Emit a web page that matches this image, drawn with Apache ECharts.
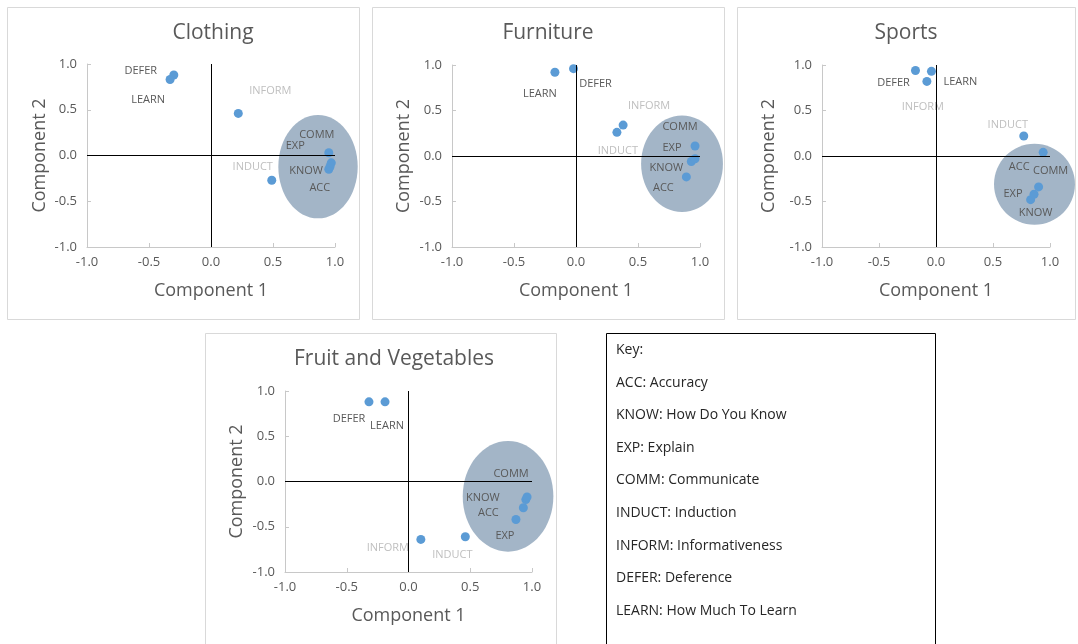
<!DOCTYPE html>
<html>
<head>
<meta charset="utf-8">
<script src="https://cdn.jsdelivr.net/npm/echarts@6/dist/echarts.min.js"></script>
<style>
html,body{margin:0;padding:0;background:#fff;}
#chart{width:1078px;height:644px;}
</style>
</head>
<body>
<div id="chart"></div>
<script>
// ---- Data ----
const varNames = ['ACC', 'KNOW', 'EXP', 'COMM', 'INDUCT', 'INFORM', 'DEFER', 'LEARN'];
const panelTitles = ['Clothing', 'Furniture', 'Sports', 'Fruit and Vegetables'];

const clothingX = [0.95, 0.96, 0.97, 0.95, 0.49, 0.22, -0.30, -0.33];
const clothingY = [-0.15, -0.12, -0.08, 0.03, -0.27, 0.46, 0.88, 0.83];
const furnitureX = [0.89, 0.93, 0.96, 0.96, 0.33, 0.38, -0.02, -0.17];
const furnitureY = [-0.23, -0.06, -0.03, 0.11, 0.26, 0.34, 0.96, 0.92];
const sportsX = [0.94, 0.83, 0.86, 0.90, 0.77, -0.08, -0.18, -0.04];
const sportsY = [0.04, -0.48, -0.42, -0.34, 0.22, 0.82, 0.94, 0.93];
const fruitX = [0.93, 0.95, 0.87, 0.96, 0.46, 0.10, -0.32, -0.19];
const fruitY = [-0.29, -0.20, -0.42, -0.17, -0.61, -0.64, 0.88, 0.88];

// cluster ellipses: [centerX, centerY, radiusX, radiusY] in data units
const clothingEllipse = [0.863, -0.122, 0.32, 0.565];
const furnitureEllipse = [0.855, -0.086, 0.33, 0.53];
const sportsEllipse = [0.864, -0.311, 0.355, 0.445];
const fruitEllipse = [0.806, -0.164, 0.367, 0.611];

const axisMin = -1.0, axisMax = 1.0, axisStep = 0.5;
const xAxisName = 'Component 1';
const yAxisName = 'Component 2';

const keyLines = ['Key:', 'ACC: Accuracy', 'KNOW: How Do You Know', 'EXP: Explain',
  'COMM: Communicate', 'INDUCT: Induction', 'INFORM: Informativeness',
  'DEFER: Deference', 'LEARN: How Much To Learn'];

const lightLabels = ['INDUCT', 'INFORM'];

// ---- Layout / style (not data) ----
const FONT = '"Open Sans", "Noto Sans", sans-serif';
const panels = [
  {x: clothingX, y: clothingY, ell: clothingEllipse,
   grid: {left: 87, top: 64, width: 248, height: 183},
   frame: [7, 7, 352, 312], title: [213, 33], yGap: 38, xGap: 35,
   offsets: [[-9, 19], [-24, 4], [-36, -17], [-12, -18], [-19, -13], [32, -23], [-33, -4], [-22, 20]]},
  {x: furnitureX, y: furnitureY, ell: furnitureEllipse,
   grid: {left: 452, top: 65, width: 248, height: 182},
   frame: [372, 7, 352, 312], title: [548, 33], yGap: 39, xGap: 35,
   offsets: [[-23, 11], [-25, 6], [-23, -11], [-15, -19], [1, 19], [26, -19], [22, 15], [-15, 22]]},
  {x: sportsX, y: sportsY, ell: sportsEllipse,
   grid: {left: 822, top: 65, width: 228, height: 182},
   frame: [737, 7, 338, 312], title: [906, 33], yGap: 44, xGap: 35,
   offsets: [[-24, 14], [5, 13], [-21, 0], [12, -16], [-16, -11], [-4, 25], [-22, 12], [29, 10]]},
  {x: fruitX, y: fruitY, ell: fruitEllipse,
   grid: {left: 285, top: 391, width: 247, height: 181},
   frame: [205, 333, 351, 330], title: [394, 359], yGap: 39, xGap: 35,
   offsets: [[-35, 5], [-43, -2], [-11, 16], [-16, -23], [-13, 18], [-33, 8], [-20, 17], [2, 24]]}
];

const grids = [], xAxes = [], yAxes = [], series = [], graphics = [];

function axisCommon() {
  return {
    min: axisMin, max: axisMax, interval: axisStep,
    axisLine: {show: true, onZero: false, lineStyle: {color: '#c8c8c8', width: 1}},
    axisTick: {show: true, inside: true, length: 4, lineStyle: {color: '#c8c8c8'}},
    splitLine: {show: false},
    axisLabel: {color: '#595959', fontSize: 13, fontFamily: FONT,
      formatter: v => v.toFixed(1)},
    nameLocation: 'middle',
    nameTextStyle: {color: '#595959', fontSize: 18, fontFamily: FONT}
  };
}

panels.forEach((p, i) => {
  graphics.push({type: 'rect', silent: true, z: 0,
    shape: {x: p.frame[0] + 0.5, y: p.frame[1] + 0.5, width: p.frame[2], height: p.frame[3]},
    style: {fill: 'none', stroke: '#d9d9d9', lineWidth: 1}});
  graphics.push({type: 'text', silent: true, x: p.title[0], y: p.title[1],
    style: {text: panelTitles[i], fill: '#595959', font: '21px ' + FONT,
      align: 'center', verticalAlign: 'middle'}});

  grids.push(Object.assign({containLabel: false}, p.grid));
  xAxes.push(Object.assign(axisCommon(), {gridIndex: i, position: 'bottom', name: xAxisName,
    nameGap: p.xGap, axisLabel: Object.assign(axisCommon().axisLabel, {margin: 9})}));
  yAxes.push(Object.assign(axisCommon(), {gridIndex: i, position: 'left', name: yAxisName,
    nameGap: p.yGap, axisLabel: Object.assign(axisCommon().axisLabel, {margin: 10})}));

  series.push({
    type: 'custom', xAxisIndex: i, yAxisIndex: i, z: 1, silent: true,
    data: [p.ell],
    encode: {x: 0, y: 1},
    renderItem: (params, api) => {
      const c = api.coord([api.value(0), api.value(1)]);
      const s = api.size([api.value(2), api.value(3)]);
      return {type: 'ellipse', shape: {cx: c[0], cy: c[1], rx: s[0], ry: s[1]},
        style: {fill: '#a3b5c7'}};
    }
  });
  series.push({
    type: 'scatter', xAxisIndex: i, yAxisIndex: i, z: 2, data: [], silent: true,
    markLine: {silent: true, symbol: 'none', animation: false,
      label: {show: false},
      lineStyle: {color: '#000', width: 1, type: 'solid'},
      data: [{xAxis: 0}, {yAxis: 0}]}
  });
  series.push({
    type: 'scatter', xAxisIndex: i, yAxisIndex: i, z: 3,
    symbol: 'circle', symbolSize: 9,
    itemStyle: {color: '#5b9bd5', opacity: 1},
    data: varNames.map((n, k) => ({
      name: n, value: [p.x[k], p.y[k]],
      label: {show: true, position: 'inside', formatter: '{b}', offset: p.offsets[k],
        color: lightLabels.includes(n) ? '#bfbfbf' : '#595959',
        fontSize: 11, fontFamily: FONT}
    }))
  });
});

graphics.push({type: 'rect', silent: true,
  shape: {x: 606.5, y: 333.5, width: 329, height: 330},
  style: {fill: '#fff', stroke: '#000', lineWidth: 1}});
keyLines.forEach((t, k) => {
  graphics.push({type: 'text', silent: true, x: 616, y: 350 + k * 32.6,
    style: {text: t, fill: '#262626', font: '14px ' + FONT, align: 'left', verticalAlign: 'middle'}});
});

const chart = echarts.init(document.getElementById('chart'));
chart.setOption({
  animation: false,
  backgroundColor: '#fff',
  grid: grids, xAxis: xAxes, yAxis: yAxes, series: series,
  graphic: graphics
});
</script>
</body>
</html>
